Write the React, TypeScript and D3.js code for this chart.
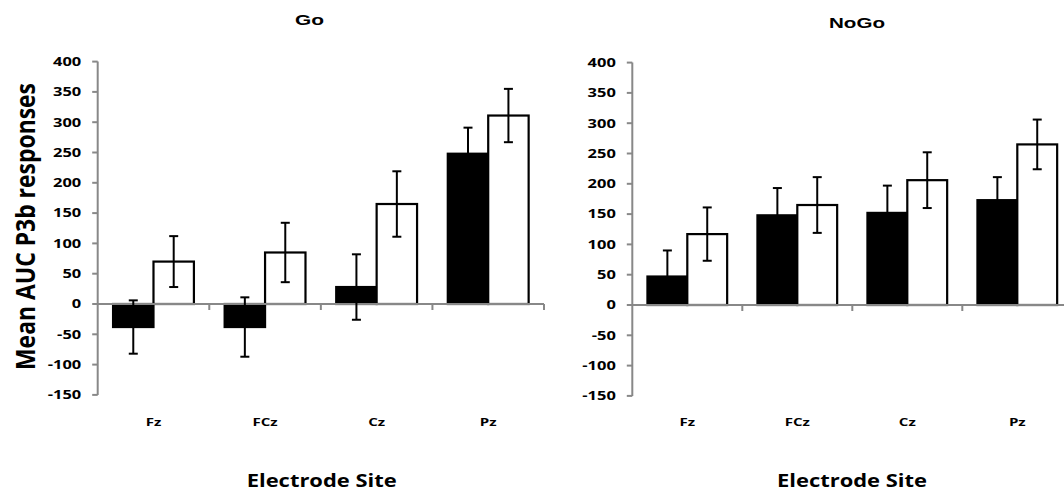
import React from "react";
import * as d3 from "d3";

const categories = ["Fz", "FCz", "Cz", "Pz"];
const goBlack = [-38, -38, 28, 248];
const goBlackErr = [44, 49, 54, 43];
const goWhite = [70, 85, 165, 311];
const goWhiteErr = [42, 49, 54, 44];
const nogoBlack = [47, 148, 152, 173];
const nogoBlackErr = [43, 45, 45, 38];
const nogoWhite = [117, 165, 206, 265];
const nogoWhiteErr = [44, 46, 46, 41];
const yTicks = [-150, -100, -50, 0, 50, 100, 150, 200, 250, 300, 350, 400];
const series = ["black", "white"];

const SX = 1.37;
const calibriLike = "'Open Sans', 'DejaVu Sans', sans-serif";
const arialLike = "'Liberation Sans', Arial, sans-serif";
const AXIS = "#888888";

type STextProps = {
  x: number;
  y: number;
  anchor?: string;
  size: number;
  family?: string;
  len?: number;
  rotate?: boolean;
  children: React.ReactNode;
};

function SText({ x, y, anchor = "middle", size, family = calibriLike, len, rotate, children }: STextProps) {
  return (
    <text
      transform={`translate(${x},${y}) scale(${SX},1)${rotate ? " rotate(-90)" : ""}`}
      textAnchor={anchor}
      fontSize={size}
      fontWeight="bold"
      fontFamily={family}
      fill="#000"
      textLength={len}
      lengthAdjust={len ? "spacingAndGlyphs" : undefined}
    >
      {children}
    </text>
  );
}

type PanelProps = {
  title: string;
  titleX: number;
  titleY: number;
  titleLen: number;
  xRange: [number, number];
  yRange: [number, number];
  blackVals: number[];
  blackErr: number[];
  whiteVals: number[];
  whiteErr: number[];
  xLabelX: number;
};

function Panel(p: PanelProps) {
  const y = d3.scaleLinear().domain([-150, 400]).range(p.yRange);
  const x0 = d3.scaleBand<string>().domain(categories).range(p.xRange).paddingInner(0).paddingOuter(0);
  const x1 = d3.scaleBand<string>().domain(series).range([0, x0.bandwidth()]).paddingInner(0).paddingOuter(0.38);
  const left = p.xRange[0];
  const right = p.xRange[1];
  const zero = y(0);
  const capHalf = 4.5;

  const bars = categories.flatMap((c, i) =>
    series.map((s) => {
      const v = s === "black" ? p.blackVals[i] : p.whiteVals[i];
      const e = s === "black" ? p.blackErr[i] : p.whiteErr[i];
      const bx = (x0(c) as number) + (x1(s) as number);
      const bw = x1.bandwidth();
      return { c, s, v, e, bx, bw };
    })
  );

  return (
    <g>
      {/* bars */}
      {bars.map((b) => (
        <rect
          key={`bar-${b.c}-${b.s}`}
          x={b.bx}
          y={Math.min(y(b.v), zero)}
          width={b.bw}
          height={Math.abs(y(b.v) - zero)}
          fill={b.s === "black" ? "#000" : "#fff"}
          stroke="#000"
          strokeWidth={2.2}
        />
      ))}
      {/* axes */}
      <line x1={left} x2={left} y1={y(-150)} y2={y(400)} stroke={AXIS} strokeWidth={2} />
      {yTicks.map((t) => (
        <g key={`yt-${t}`}>
          <line x1={left - 5.5} x2={left} y1={y(t)} y2={y(t)} stroke={AXIS} strokeWidth={2} />
          <SText x={left - 16.5} y={y(t) + 4.3} anchor="end" size={12}>
            {String(t)}
          </SText>
        </g>
      ))}
      <line x1={left} x2={right} y1={zero} y2={zero} stroke={AXIS} strokeWidth={2} />
      {categories.map((c, i) => (
        <line
          key={`xt-${c}`}
          x1={(x0(c) as number) + x0.bandwidth()}
          x2={(x0(c) as number) + x0.bandwidth()}
          y1={zero}
          y2={zero + 6}
          stroke={AXIS}
          strokeWidth={2}
        />
      ))}
      {/* error bars */}
      {bars.map((b) => {
        const cx = b.bx + b.bw / 2;
        const top = y(b.v + b.e);
        const bot = y(b.v - b.e);
        return (
          <g key={`err-${b.c}-${b.s}`} stroke="#000" strokeWidth={2}>
            <line x1={cx} x2={cx} y1={top} y2={bot} />
            <line x1={cx - capHalf} x2={cx + capHalf} y1={top} y2={top} />
            <line x1={cx - capHalf} x2={cx + capHalf} y1={bot} y2={bot} />
          </g>
        );
      })}
      {/* category labels */}
      {categories.map((c) => (
        <SText key={`cl-${c}`} x={(x0(c) as number) + x0.bandwidth() / 2} y={426} size={11}>
          {c}
        </SText>
      ))}
      <SText x={p.xLabelX} y={487} size={17} len={150 / SX}>
        Electrode Site
      </SText>
      <SText x={p.titleX} y={p.titleY} size={15} family={arialLike} len={p.titleLen / SX}>
        {p.title}
      </SText>
    </g>
  );
}

export default function App() {
  return (
    <svg
      width={1064}
      height={495}
      style={{ position: "absolute", left: 0, top: 0, background: "#fff" }}
    >
      <rect x={0} y={0} width={1064} height={495} fill="#fff" />
      <Panel
        title="Go"
        titleX={309.5}
        titleY={25}
        titleLen={29}
        xRange={[97.7, 544]}
        yRange={[394.9, 61.6]}
        blackVals={goBlack}
        blackErr={goBlackErr}
        whiteVals={goWhite}
        whiteErr={goWhiteErr}
        xLabelX={321.7}
      />
      <Panel
        title="NoGo"
        titleX={857}
        titleY={28}
        titleLen={56}
        xRange={[632.3, 1072.3]}
        yRange={[395.9, 62.6]}
        blackVals={nogoBlack}
        blackErr={nogoBlackErr}
        whiteVals={nogoWhite}
        whiteErr={nogoWhiteErr}
        xLabelX={852}
      />
      <SText x={35} y={226.5} size={20} rotate len={287}>
        Mean AUC  P3b responses
      </SText>
    </svg>
  );
}
